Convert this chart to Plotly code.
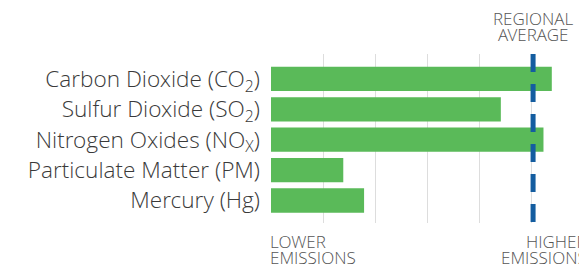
import plotly.graph_objects as go

categories = ["Carbon Dioxide (CO<sub>2</sub>)", "Sulfur Dioxide (SO<sub>2</sub>)",
              "Nitrogen Oxides (NO<sub>X</sub>)", "Particulate Matter (PM)", "Mercury (Hg)"]
values = [5.4, 4.42, 5.24, 1.39, 1.79]
regional_average = 5.04

FONT = "Open Sans Light, Open Sans"
fig = go.Figure()
fig.add_trace(go.Bar(
    x=values, y=categories, orientation="h",
    marker=dict(color="#5aba59", line=dict(width=0)),
    width=0.8, showlegend=False, hoverinfo="skip",
))

fig.add_shape(type="line", xref="x", yref="paper", x0=regional_average, x1=regional_average,
              y0=1, y1=0, line=dict(color="#145da0", width=5, dash="18px,12px"))

ann_font = dict(family=FONT, size=17, color="#555555", weight=300)
annotations = [
    dict(text="REGIONAL", x=regional_average, xref="x", y=1, yref="paper", yshift=36, xanchor="center"),
    dict(text="AVERAGE", x=regional_average, xref="x", y=1, yref="paper", yshift=20, xanchor="center"),
    dict(text="LOWER", x=0, xref="paper", y=0, yref="paper", yshift=-18, xanchor="left", xshift=-2),
    dict(text="EMISSIONS", x=0, xref="paper", y=0, yref="paper", yshift=-34.5, xanchor="left", xshift=-2),
    dict(text="HIGHER", x=1.03, xref="paper", y=0, yref="paper", yshift=-18, xanchor="right"),
    dict(text="EMISSIONS", x=1.03, xref="paper", y=0, yref="paper", yshift=-34.5, xanchor="right"),
]
for a in annotations:
    a.update(showarrow=False, font=ann_font, yanchor="middle", borderpad=0)
fig.update_layout(annotations=annotations)

fig.update_layout(
    width=579, height=268,
    margin=dict(l=271, r=0, t=54, b=45),
    paper_bgcolor="white", plot_bgcolor="white",
    xaxis=dict(range=[0, 5.923], dtick=1, tick0=0, showgrid=True, gridcolor="#dddddd", gridwidth=1,
               zeroline=False, showticklabels=False, showline=False, ticks=""),
    yaxis=dict(autorange=False, range=[4.74, -0.82], showgrid=False, zeroline=False, showline=False,
               ticks="", ticklabelstandoff=10,
               tickfont=dict(family=FONT, size=22.6, color="#3a3a3a", weight=300)),
)

fig.write_html("out.html", config={"displayModeBar": False},
               post_script="document.body.style.margin='0';")
